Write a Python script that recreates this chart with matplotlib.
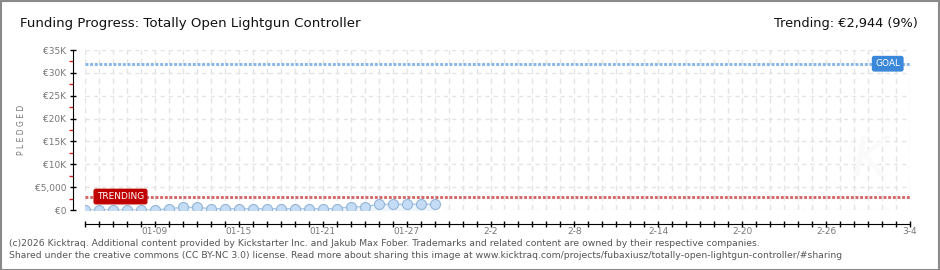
import matplotlib
matplotlib.use("Agg")
import matplotlib.pyplot as plt
import matplotlib.dates as mdates
from matplotlib.patches import Rectangle
import pandas as pd

# data
dates = pd.date_range("2026-01-04", "2026-01-29", freq="D")
pledged = [0, 0, 0, 0, 0, 0, 290, 580, 580, 290, 290, 290, 290, 290,
           290, 290, 290, 290, 290, 730, 730, 1240, 1240, 1240, 1240, 1240]
goal = 32000
trending = 2944
x_start, x_end = "2026-01-04", "2026-03-04"
xtick_dates = ["2026-01-09", "2026-01-15", "2026-01-21", "2026-01-27", "2026-02-02",
               "2026-02-08", "2026-02-14", "2026-02-20", "2026-02-26", "2026-03-04"]
xtick_labels = ["01-09", "01-15", "01-21", "01-27", "2-2", "2-8", "2-14", "2-20", "2-26", "3-4"]
ytick_vals = [0, 5000, 10000, 15000, 20000, 25000, 30000, 35000]
ytick_labels = ["€0", "€5,000", "€10K", "€15K", "€20K", "€25K", "€30K", "€35K"]

title = "Funding Progress: Totally Open Lightgun Controller"
trend_text = "Trending: €2,944 (9%)"
footer1 = ("(c)2026 Kicktraq. Additional content provided by Kickstarter Inc. and Jakub Max Fober. "
           "Trademarks and related content are owned by their respective companies.")
footer2 = ("Shared under the creative commons (CC BY-NC 3.0) license. Read more about sharing this image at "
           "www.kicktraq.com/projects/fubaxiusz/totally-open-lightgun-controller/#sharing")

W, H = 940, 270
fig = plt.figure(figsize=(W / 100, H / 100), dpi=100)
fig.patch.set_facecolor("white")

# plot area in pixels: x 85..910, y 50..210
ax = fig.add_axes([85 / W, 1 - 210 / H, 825 / W, 160 / H])
ax.set_facecolor("none")

x0 = mdates.date2num(pd.Timestamp(x_start))
x1 = mdates.date2num(pd.Timestamp(x_end))
xd = mdates.date2num(dates)
ax.set_xlim(x0, x1)
ax.set_ylim(0, 35000)

# grid
for d in range(int(x0), int(x1) + 1):
    ax.axvline(d, color="#e4e4e4", lw=1, ls=(0, (4, 3)), zorder=0)
for v in ytick_vals:
    ax.axhline(v, color="#e4e4e4", lw=1, ls=(0, (3, 3)), zorder=0)

# funding series
ax.fill_between(xd, pledged, 0, color="#edf4fc", zorder=1)
ax.plot(xd, pledged, color="#a8c9ec", lw=1, zorder=2)
ax.plot(xd, pledged, ls="none", marker="o", ms=7.2, mfc="#c4dcf6",
        mec="#95b5d6", mew=0.8, zorder=3)

# goal / trending lines
ax.axhline(goal, color="#86b6ea", lw=2.1, ls=(0, (1, 0.6)), zorder=2)
ax.axhline(trending, color="#d46868", lw=2.1, ls=(0, (1, 0.6)), zorder=2)

tr = ax.get_yaxis_transform()
ax.text(0.043, trending, "TRENDING", transform=tr, ha="center", va="center",
        color="white", fontsize=6.5, family="DejaVu Sans", zorder=5,
        bbox=dict(boxstyle="round,pad=0.3,rounding_size=0.2", fc="#c00000", ec="#c00000"))
ax.text(0.973, goal, "GOAL", transform=tr, ha="center", va="center",
        color="white", fontsize=6.5, family="DejaVu Sans", zorder=5,
        bbox=dict(boxstyle="round,pad=0.3,rounding_size=0.2", fc="#3b87d9", ec="#3b87d9"))

# axes styling
for s in ["top", "right"]:
    ax.spines[s].set_visible(False)
ax.spines["left"].set_position(("outward", 9))
ax.spines["bottom"].set_position(("outward", 10))

ax.set_yticks(ytick_vals)
ax.set_yticklabels(ytick_labels)
ax.set_yticks([v + 2500 for v in ytick_vals[:-1]], minor=True)
ax.tick_params(axis="y", which="major", direction="inout", length=5, width=1,
               colors="black", labelcolor="#777777", labelsize=6.5, pad=2)
ax.tick_params(axis="y", which="minor", direction="out", length=3, width=1, colors="#dd2222")

ax.set_xticks(range(int(x0), int(x1) + 1), minor=True)
ax.set_xticks(mdates.date2num(pd.to_datetime(xtick_dates)))
ax.set_xticklabels(xtick_labels)
ax.tick_params(axis="x", which="both", direction="inout", length=5, width=1,
               colors="black", labelcolor="#777777", labelsize=6.5, pad=0)

fig.text(21 / W, 1 - 130 / H, "P L E D G E D", rotation=90, ha="center", va="center",
         fontsize=5.5, color="#777777")

# titles
fig.text(20 / W, 1 - 24 / H, title, ha="left", va="center", fontsize=9.6,
         color="#111111")
fig.text(918 / W, 1 - 23 / H, trend_text, ha="right", va="center", fontsize=9.3,
         color="#111111")

# footer
fig.text(9 / W, 1 - 243 / H, footer1, ha="left", va="center", fontsize=6.7,
         color="#555555")
fig.text(9 / W, 1 - 255 / H, footer2, ha="left", va="center", fontsize=6.7,
         color="#555555")

# faint watermark
fig.text(870 / W, 1 - 160 / H, "K", ha="center", va="center", fontsize=40,
         style="italic", color="#fafafa", zorder=0)

# border
fig.patches.append(Rectangle((0.5 / W, 0.5 / H), (W - 1.5) / W, (H - 1.5) / H,
                             transform=fig.transFigure, fill=False, ec="#8a8a8a", lw=1.5))

fig.savefig("out.png", dpi=100)
